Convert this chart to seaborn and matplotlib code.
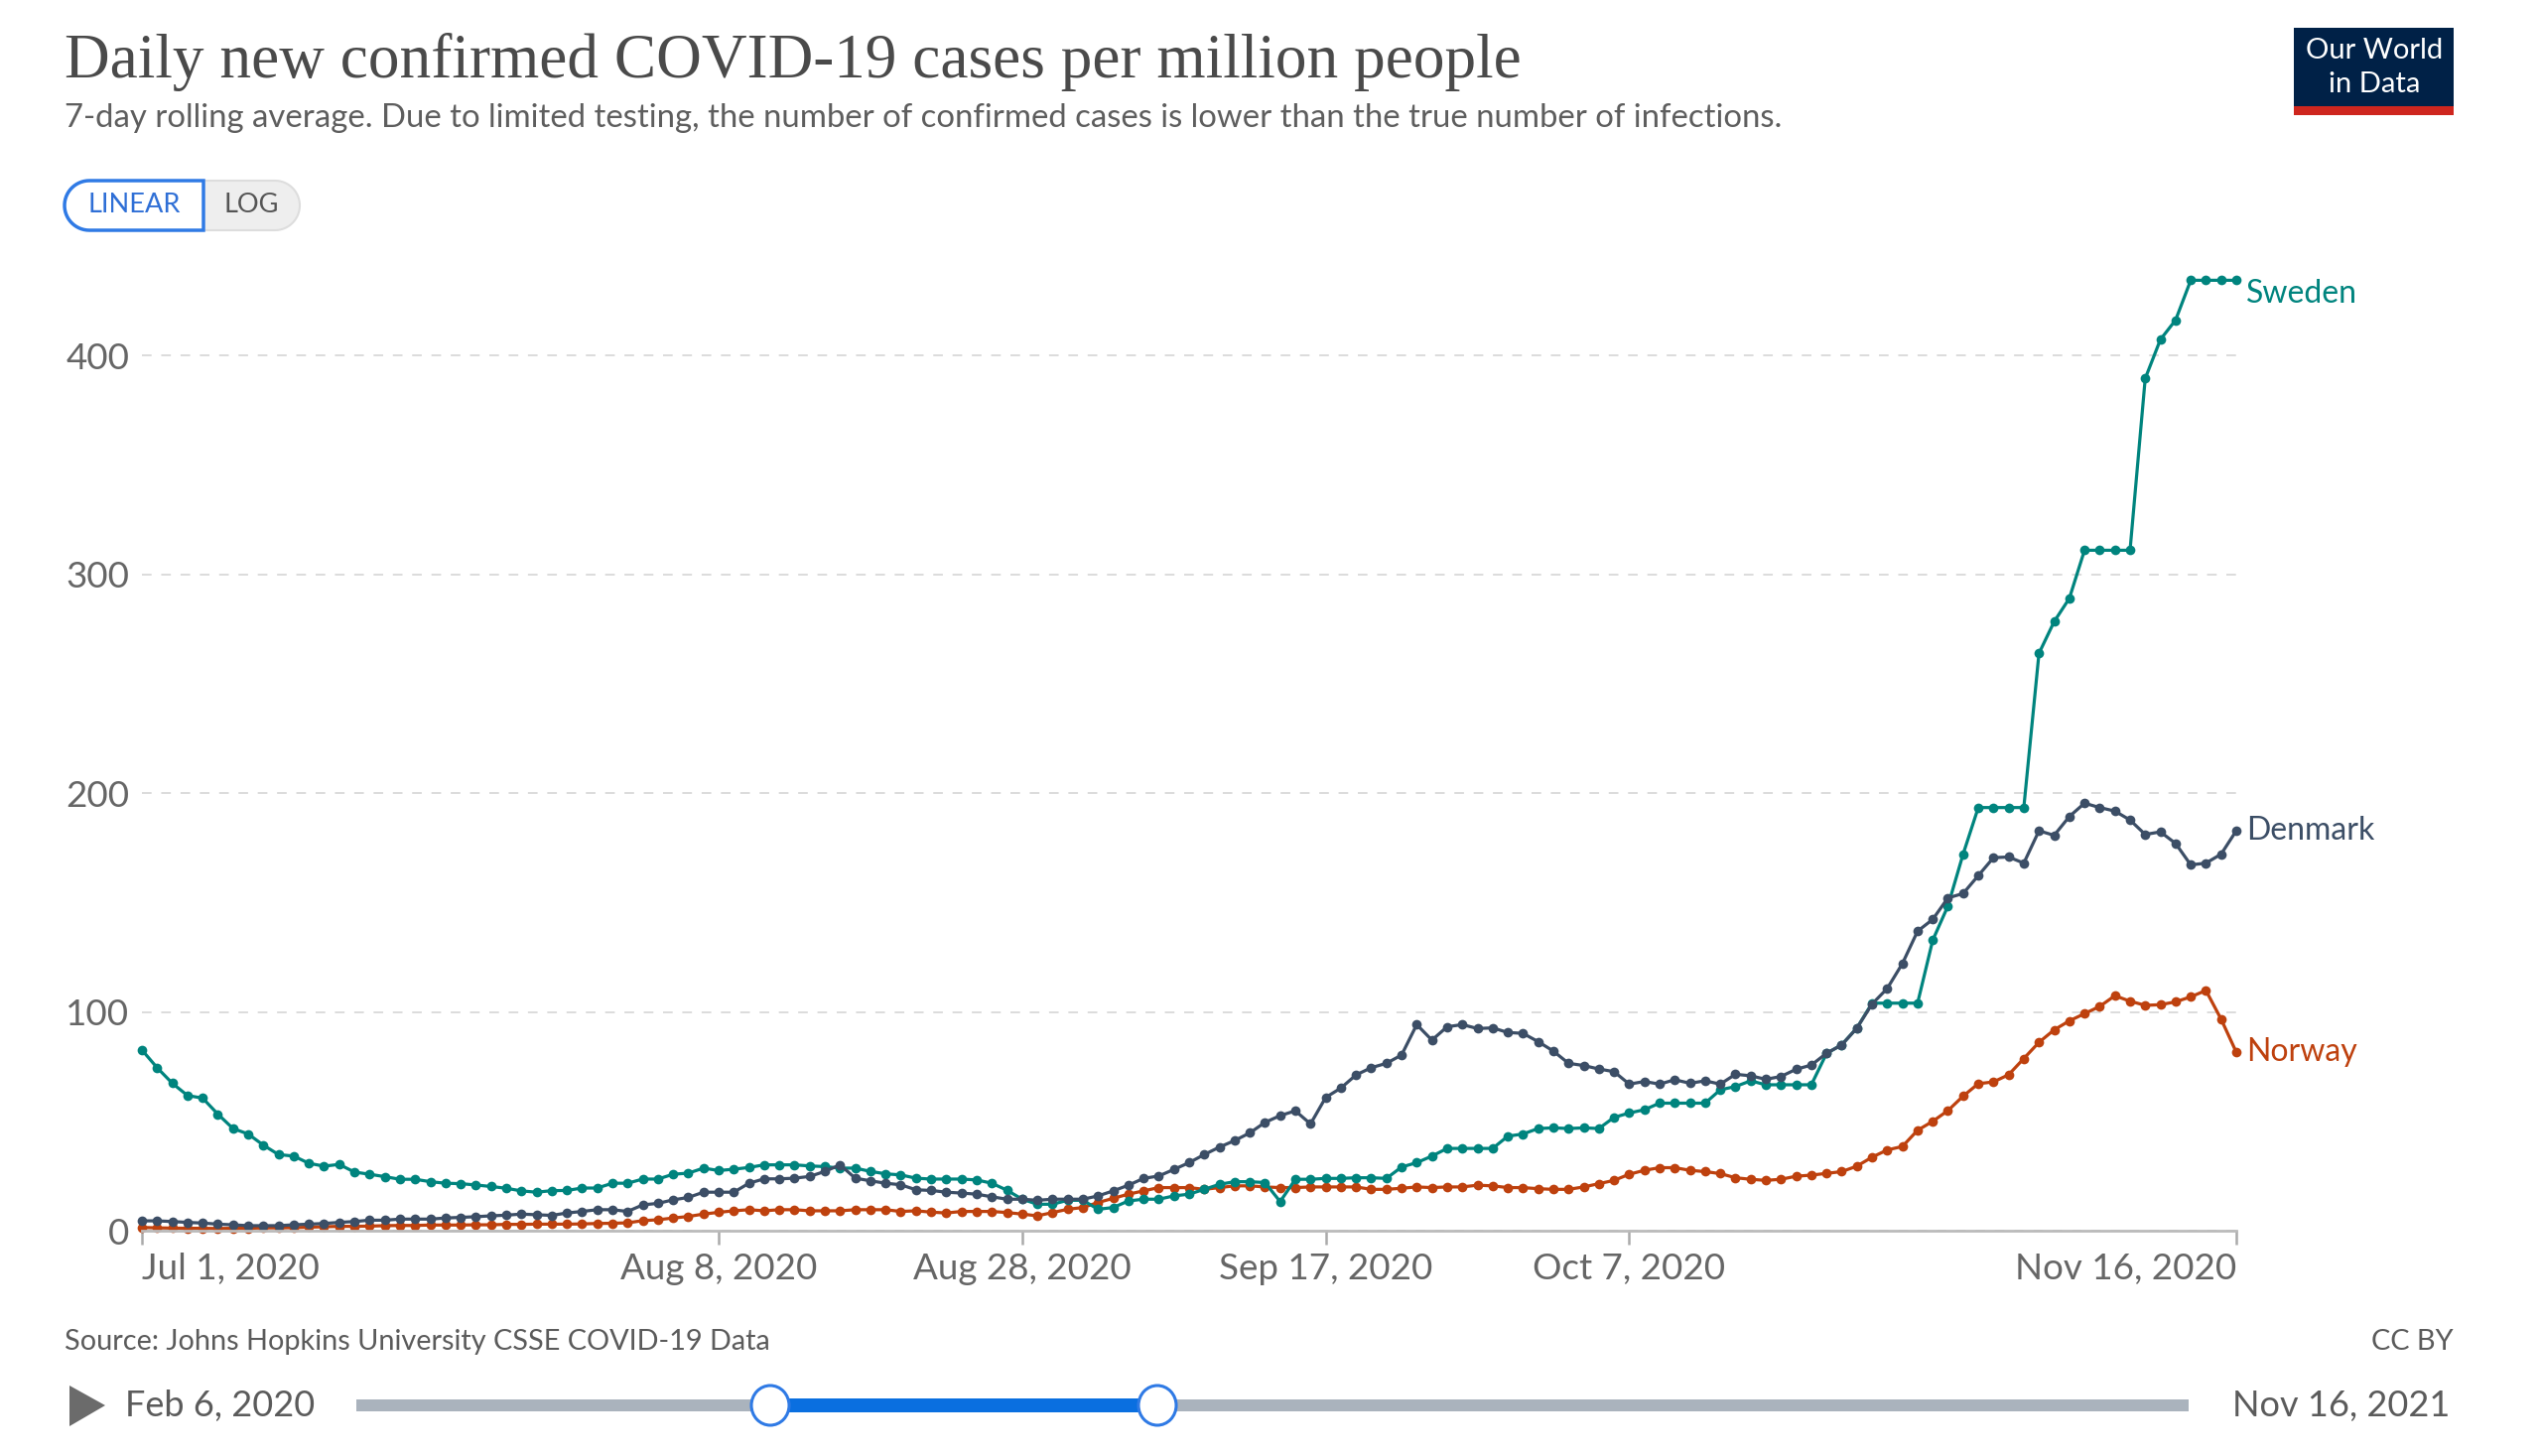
import numpy as np
import pandas as pd
import matplotlib
matplotlib.use("Agg")
import matplotlib.pyplot as plt
import seaborn as sns
from matplotlib.patches import Rectangle, Polygon, Ellipse

W, H = 2560, 1467

# daily values, Jul 1 - Nov 16 2020 (7-day rolling average, per million)
dates = pd.date_range("2020-07-01", "2020-11-16", freq="D")

sweden = [
    82.6, 74.5, 67.4, 61.8, 60.6, 53.3, 46.7, 44.2, 39.1, 34.8, 34.1, 30.8, 29.5, 30.3,
    26.8, 25.8, 24.7, 23.5, 23.5, 22.4, 21.7, 21.5, 20.9, 20.2, 19.4, 18.2, 17.6, 18.3,
    18.4, 19.5, 19.5, 21.7, 21.7, 23.6, 23.6, 25.8, 26.3, 28.6, 27.5, 28.1, 28.9, 30.1,
    30.1, 30.1, 29.6, 29.3, 28.6, 28.6, 27.1, 26.0, 25.5, 24.0, 23.6, 23.6,
    23.6, 23.2, 21.7, 18.5, 14.4, 12.1, 12.1, 13.9, 13.9, 9.8, 10.6, 13.6, 14.4, 14.4,
    15.9, 16.7, 18.9, 21.2, 22.4, 22.4, 22.0, 13.3, 23.5, 23.5, 23.9, 23.9, 24.2,
    24.2, 23.9, 29.1, 31.1, 34.1, 37.6, 37.6, 37.6, 37.6, 43.2, 44.2, 46.7, 47.0, 46.7,
    47.0, 46.7, 51.8, 53.8, 55.3, 58.3, 58.3, 58.3, 58.3, 64.4, 65.9, 68.5, 66.7, 66.7,
    66.7, 66.7, 81.0, 85.0, 92.6, 104.0, 104.0, 104.0, 104.0, 132.8, 148.4, 172.1,
    193.4, 193.4, 193.4, 193.4, 263.9, 278.4, 289.0, 311.0, 311.0, 311.0, 311.0,
    389.5, 407.3, 416.2, 434.4, 434.4, 434.4, 434.4,
]

denmark = [
    4.5, 4.5, 4.2, 3.8, 3.5, 3.0, 2.7, 2.3, 2.3, 2.3, 2.7, 3.0, 3.3, 3.8, 4.2, 4.8,
    4.8, 5.3, 5.3, 5.3, 5.8, 6.1, 6.4, 6.8, 7.1, 7.6, 7.3, 7.0,
    8.1, 8.8, 9.6, 9.6, 8.8, 11.8, 12.5, 14.1, 15.2, 17.6, 17.6, 17.6, 21.7, 23.7,
    23.7, 24.0, 24.8, 27.1, 30.1, 24.0, 22.8, 21.7, 21.0, 18.7, 18.4, 17.6,
    17.2, 16.7, 15.5, 14.4, 14.4, 13.9, 14.4, 14.4, 14.4, 15.9, 18.2, 20.8, 23.9, 25.0,
    28.0, 31.1, 34.8, 38.2, 41.2, 44.7, 49.5, 52.6, 54.8, 48.8, 60.9, 65.2, 71.2,
    74.5, 76.5, 80.3, 94.2, 87.1, 93.2, 94.2, 92.4, 92.7, 90.6, 90.2, 86.4, 82.1, 76.5,
    75.5, 73.9, 72.7, 67.0, 68.2, 67.0, 69.0, 67.4, 68.5, 67.0, 71.5, 70.8, 69.2, 70.5,
    73.8, 75.7, 81.1, 84.9, 92.6, 103.6, 110.7, 122.1, 136.9, 142.3, 152.1, 154.1,
    162.3, 170.5, 170.8, 168.0, 182.8, 180.7, 189.3, 195.4, 193.4, 191.8, 187.7,
    181.1, 182.3, 177.0, 167.2, 168.0, 172.1, 182.8,
]

norway = [
    1.5, 1.3, 1.2, 1.1, 1.1, 1.0, 1.1, 1.1, 1.3, 1.3, 1.4, 1.6, 1.8, 2.0, 2.0, 2.1,
    2.3, 2.4, 2.4, 2.6, 2.6, 2.6, 2.7, 2.7, 2.9, 2.9, 3.0, 3.0,
    3.0, 3.1, 3.3, 3.4, 3.6, 4.6, 5.0, 5.8, 6.5, 7.6, 8.4, 9.1, 9.6, 9.1, 9.6, 9.6,
    9.1, 9.1, 9.1, 9.6, 9.6, 9.6, 8.8, 9.1, 8.5, 8.1,
    8.8, 8.8, 8.8, 8.3, 7.6, 6.8, 8.3, 9.8, 10.6, 12.9, 14.8, 16.7, 18.2, 19.7, 19.7,
    19.7, 18.9, 19.7, 20.5, 20.5, 20.0, 19.7, 19.7, 20.0, 20.0, 20.0, 20.0,
    18.9, 18.9, 19.4, 20.0, 19.7, 20.0, 20.0, 20.8, 20.5, 19.7, 19.7, 19.2, 18.9, 18.9,
    20.0, 21.5, 23.0, 25.8, 27.6, 28.8, 28.8, 27.6, 27.0, 26.1, 24.2, 23.5, 23.0, 23.5,
    24.9, 25.4, 26.2, 27.0, 29.5, 33.6, 36.9, 38.5, 45.9, 50.0, 54.9, 61.5, 67.2,
    68.0, 71.3, 78.7, 86.1, 91.8, 95.9, 99.2, 102.5, 107.4, 104.9, 103.0, 103.3,
    104.6, 106.9, 109.8, 96.7, 81.6,
]

countries = ["Norway", "Sweden", "Denmark"]
colors = {"Sweden": "#00847e", "Denmark": "#3c4e66", "Norway": "#be410e"}
label_offsets = {"Sweden": -10, "Denmark": 0, "Norway": 0}

tick_dates = ["2020-07-01", "2020-08-08", "2020-08-28", "2020-09-17", "2020-10-07", "2020-11-16"]
tick_labels = ["Jul 1, 2020", "Aug 8, 2020", "Aug 28, 2020", "Sep 17, 2020", "Oct 7, 2020", "Nov 16, 2020"]
y_ticks = [0, 100, 200, 300, 400]

title = "Daily new confirmed COVID-19 cases per million people"
subtitle = ("7-day rolling average. Due to limited testing, the number of confirmed cases "
            "is lower than the true number of infections.")
source = "Source: Johns Hopkins University CSSE COVID-19 Data"


def fx(x):
    return x / W


def fy(y):
    return 1 - y / H


def pill(x0, x1, yc, h, left=True, right=True, n=30):
    r = h / 2
    pts = []
    if left:
        for a in np.linspace(np.pi / 2, 3 * np.pi / 2, n):
            pts.append((x0 + r + r * np.cos(a), yc - r * np.sin(a)))
    else:
        pts += [(x0, yc - r), (x0, yc + r)]
    if right:
        for a in np.linspace(-np.pi / 2, np.pi / 2, n):
            pts.append((x1 - r + r * np.cos(a), yc - r * np.sin(a)))
    else:
        pts += [(x1, yc + r), (x1, yc - r)]
    return [(fx(px), fy(py)) for px, py in pts]


sns.set_theme(style="white")
plt.rcParams["font.family"] = ["Lato", "DejaVu Sans"]

df = pd.DataFrame({
    "date": np.tile(dates, 3),
    "cases": norway + sweden + denmark,
    "country": np.repeat(countries, len(dates)),
})

fig = plt.figure(figsize=(W / 100, H / 100), dpi=100)
fig.patch.set_facecolor("white")

y_top = 450
ax = fig.add_axes([fx(143), fy(1240), fx(2253) - fx(143), (1240 - 248) / H])

sns.lineplot(data=df, x="date", y="cases", hue="country", hue_order=countries,
             palette=colors, marker="o", markersize=7, markeredgewidth=0,
             linewidth=2.3, legend=False, errorbar=None, ax=ax)
for line in ax.lines:
    line.set_clip_on(False)

ax.set_xlim(dates[0], dates[-1])
ax.set_ylim(0, y_top)
ax.set_xlabel("")
ax.set_ylabel("")

ax.set_yticks(y_ticks)
ax.set_yticklabels([str(v) for v in y_ticks])
ax.tick_params(axis="y", length=0, pad=9, labelsize=26.5, labelcolor="#666666")
ax.yaxis.grid(True, linestyle=(0, (5, 5)), color="#dcdcdc", linewidth=1.4)
ax.xaxis.grid(False)

ax.set_xticks(pd.to_datetime(tick_dates))
ax.set_xticklabels(tick_labels)
ax.tick_params(axis="x", length=10, width=1.8, color="#aaaaaa", pad=6,
               labelsize=26.5, labelcolor="#666666", direction="out", bottom=True)
xl = ax.get_xticklabels()
xl[0].set_horizontalalignment("left")
xl[-1].set_horizontalalignment("right")

for s in ["top", "right", "left"]:
    ax.spines[s].set_visible(False)
ax.spines["bottom"].set_color("#bbbbbb")
ax.spines["bottom"].set_linewidth(2)

# country labels at the line ends
series = {"Sweden": sweden, "Denmark": denmark, "Norway": norway}
for name, vals in series.items():
    ax.annotate(name, xy=(dates[-1], vals[-1]), xytext=(7, label_offsets[name]),
                textcoords="offset points", ha="left", va="center",
                fontsize=23, color=colors[name], annotation_clip=False)

# header
fig.text(fx(65), fy(62), title, fontsize=45.5, color="#4a4a4a",
         family=["Liberation Serif", "DejaVu Serif"], ha="left", va="center")
fig.text(fx(65), fy(119), subtitle, fontsize=23.7, color="#5e5e5e", ha="left", va="center")

# LINEAR / LOG toggle
fig.patches.append(Polygon(pill(65, 302, 207, 50), closed=True, transform=fig.transFigure,
                           facecolor="#eeeeee", edgecolor="#dddddd", linewidth=1.5))
fig.patches.append(Polygon(pill(65, 205, 207, 50, right=False), closed=True,
                           transform=fig.transFigure, facecolor="white",
                           edgecolor="#2f7ae5", linewidth=2.5))
fig.text(fx(135), fy(207), "LINEAR", fontsize=19.5, color="#2f6fd6", ha="center", va="center")
fig.text(fx(253), fy(207), "LOG", fontsize=19.5, color="#555555", ha="center", va="center")

# logo
fig.patches.append(Rectangle((fx(2311), fy(116)), (2472 - 2311) / W, (116 - 28) / H,
                             transform=fig.transFigure, facecolor="#002147", edgecolor="none"))
fig.patches.append(Rectangle((fx(2311), fy(116)), (2472 - 2311) / W, 9 / H,
                             transform=fig.transFigure, facecolor="#ce261e", edgecolor="none"))
fig.text(fx(2392), fy(51), "Our World", fontsize=21, color="white", ha="center", va="center")
fig.text(fx(2392), fy(85), "in Data", fontsize=21, color="white", ha="center", va="center")

# footer
fig.text(fx(65), fy(1352), source, fontsize=20.8, color="#5b5b5b", ha="left", va="center")
fig.text(fx(2472), fy(1352), "CC BY", fontsize=20.8, color="#5b5b5b", ha="right", va="center")

# timeline
fig.patches.append(Polygon([(fx(70), fy(1396)), (fx(106), fy(1416)), (fx(70), fy(1437))],
                           closed=True, transform=fig.transFigure, facecolor="#6b6b6b",
                           edgecolor="none"))
fig.text(fx(126), fy(1417), "Feb 6, 2020", fontsize=26, color="#5b5b5b", ha="left", va="center")
fig.text(fx(2468), fy(1417), "Nov 16, 2021", fontsize=26, color="#5b5b5b", ha="right", va="center")
fig.patches.append(Rectangle((fx(359), fy(1422)), (2205 - 359) / W, 12 / H,
                             transform=fig.transFigure, facecolor="#aab3bd", edgecolor="none"))
fig.patches.append(Rectangle((fx(776), fy(1423)), (1166 - 776) / W, 14 / H,
                             transform=fig.transFigure, facecolor="#0a6fe0", edgecolor="none"))
for hx in [776, 1166]:
    fig.patches.append(Ellipse((fx(hx), fy(1416)), 38 / W, 40 / H, transform=fig.transFigure,
                               facecolor="white", edgecolor="#2f7ae5", linewidth=2.2))

fig.savefig("out.png", dpi=100, facecolor="white")
